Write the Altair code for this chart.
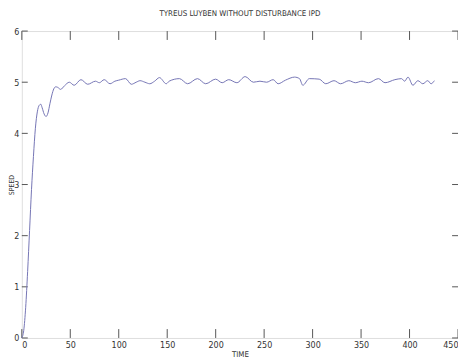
import altair as alt
import pandas as pd

# Speed response
time = [0, 2, 4, 6, 8, 10, 12, 14, 16, 18, 19.5, 21, 23, 25, 27, 29, 31, 33, 35, 37, 40, 44, 49,
        54, 61, 68, 76, 80, 85, 91, 96, 100, 107, 113, 118, 122, 127, 132, 137, 142, 149, 152,
        162.6, 171.1, 181.2, 189.7, 199.9, 206.7, 213.5, 221.9, 230.4, 238.9, 245.7, 252.5,
        259.3, 264.4, 272, 281.4, 286.5, 289.9, 296.6, 306.8, 313.6, 322.1, 328.9, 337.4, 344.1,
        350.9, 357.7, 367.9, 374.7, 384.9, 391.7, 395.0, 398.4, 403.5, 408.6, 413.7, 418.8,
        422.2, 425.6]
speed = [0, 0.15, 0.6, 1.3, 2.1, 2.9, 3.55, 4.1, 4.42, 4.55, 4.57, 4.5, 4.38, 4.33, 4.4, 4.58,
         4.75, 4.87, 4.91, 4.9, 4.86, 4.93, 5.0,
         4.94, 5.05, 4.96, 5.02, 4.99, 5.05, 4.97, 5.02, 5.04, 5.07, 4.96, 5.0, 5.03, 5.0, 4.97,
         5.02, 5.09, 4.97, 5.02,
         5.07, 4.97, 5.07, 4.97, 5.06, 4.99, 5.05, 4.99, 5.11, 5.0, 5.02, 5.0,
         5.05, 4.97, 5.04, 5.10, 5.07, 4.94, 5.07, 5.06, 4.97, 5.03, 4.97, 5.03, 4.99,
         5.02, 4.99, 5.07, 4.99, 5.05, 5.07, 5.02, 5.10, 4.94, 5.03, 4.97, 5.03,
         4.97, 5.03]

x_ticks = [0, 50, 100, 150, 200, 250, 300, 350, 400, 450]
y_ticks = [0, 1, 2, 3, 4, 5, 6]

W, H = 442, 311
FONT = "Liberation Sans Narrow, DejaVu Sans Condensed, Liberation Sans, sans-serif"

df = pd.DataFrame({"TIME": time, "SPEED": speed})
xt = pd.DataFrame({"t": x_ticks})
yt = pd.DataFrame({"v": y_ticks})

xs = alt.Scale(domain=[0, 450], nice=False, zero=False)
ys = alt.Scale(domain=[0, 6], nice=False)

line = alt.Chart(df).mark_line(color="#7474b4", strokeWidth=1, interpolate="monotone").encode(
    x=alt.X("TIME:Q", scale=xs,
            axis=alt.Axis(values=x_ticks, ticks=False, domain=False, grid=False, title="TIME",
                          labelFont=FONT, labelFontSize=9, labelColor="#333", labelPadding=3,
                          titleFont=FONT, titleFontSize=8, titleFontWeight="normal",
                          titleColor="#333", titleY=13, titleBaseline="top")),
    y=alt.Y("SPEED:Q", scale=ys,
            axis=alt.Axis(values=y_ticks, ticks=False, domain=False, grid=False, title="SPEED",
                          labelFont=FONT, labelFontSize=9, labelColor="#333", labelPadding=3,
                          titleFont=FONT, titleFontSize=7, titleFontWeight="normal",
                          titleColor="#333", titleX=-10, titleY=H / 2, titleAngle=270,
                          titleAlign="center", titleBaseline="middle")),
)

tick_color = "#555"
xb = alt.Chart(xt).mark_rule(color=tick_color, strokeWidth=1).encode(
    x=alt.X("t:Q", scale=xs), y=alt.value(H), y2=alt.value(H - 9))
xtp = alt.Chart(xt).mark_rule(color=tick_color, strokeWidth=1).encode(
    x=alt.X("t:Q", scale=xs), y=alt.value(0), y2=alt.value(9))
yl = alt.Chart(yt).mark_rule(color=tick_color, strokeWidth=1).encode(
    y=alt.Y("v:Q", scale=ys), x=alt.value(0), x2=alt.value(6))
yr = alt.Chart(yt).mark_rule(color=tick_color, strokeWidth=1).encode(
    y=alt.Y("v:Q", scale=ys), x=alt.value(W), x2=alt.value(W - 6))

chart = alt.layer(xb, xtp, yl, yr, line).properties(
    width=W, height=H,
    title=alt.TitleParams("TYREUS LUYBEN WITHOUT DISTURBANCE IPD", font=FONT, fontSize=8,
                          fontWeight="normal", color="#333", offset=9),
    autosize=alt.AutoSizeParams(type="none"),
    padding={"left": 14, "top": 21, "right": 0, "bottom": 24},
).configure_view(stroke="#333", strokeWidth=1).configure(background="white")

chart.save("out.html", embed_options={"renderer": "svg", "actions": False})
